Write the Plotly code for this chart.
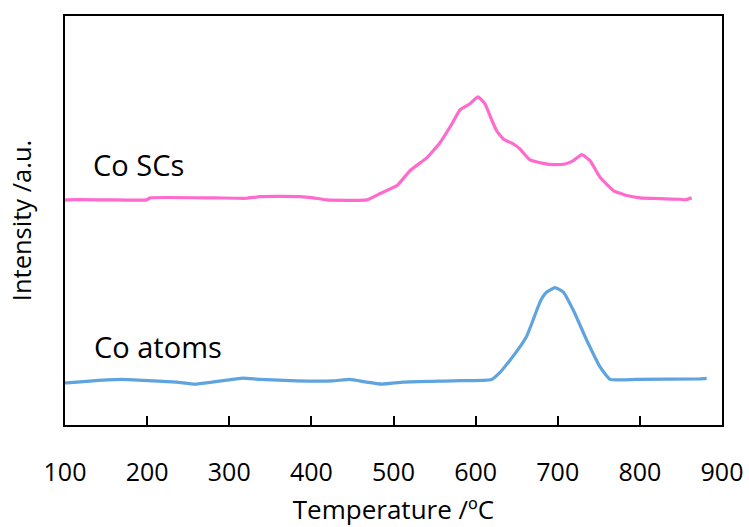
import plotly.graph_objects as go

# Co SCs (pink) – temperature (°C) and intensity (a.u.)
sc_temp = [100, 102, 150, 199.5, 203.5, 280.6, 321.3, 337.5, 386.2, 402.4, 418.7, 467.4,
           483.6, 504.3, 520.1, 540.8, 556.6, 571.2, 581, 593.2, 602.9, 611.4, 620, 625.6,
           633.7, 645.9, 654, 666.2, 682.4, 694.6, 708.9, 719, 729.2, 739.3, 751.5, 767.7,
           784, 800.2, 848.9, 855, 863.1]
sc_int = [225, 225.7, 225.7, 225.7, 227.7, 227.7, 227.3, 229, 229, 227.7, 225.7, 225.7,
          232, 240, 255, 268, 283, 302, 316, 322, 329, 322, 305, 295,
          286.7, 281.7, 276.7, 265.7, 262.3, 261, 261.7, 265, 271, 265, 248.3, 235,
          230, 227.7, 226.3, 225.7, 227.7]

# Co atoms (blue)
at_temp = [100, 102, 134, 169, 206, 236, 258, 279, 297, 317, 337, 382, 426, 447, 467, 486,
           512, 573, 619.6, 630, 641.9, 652, 662.2, 668, 674.4, 680, 686.6, 696.7, 706.8,
           719, 735.3, 751.5, 763.7, 796.2, 873.2, 881.4]
at_int = [42.3, 42.3, 44.3, 45.7, 44.3, 43, 41, 43, 45, 47, 45.7, 44.3, 44.3, 45.7, 43, 41,
          43, 44.3, 45.7, 53, 65, 76, 89, 101, 115, 126, 133.3, 137.7, 133.3,
          115, 85, 58.3, 45.7, 45.7, 46.3, 46.7]

x_ticks = [100, 200, 300, 400, 500, 600, 700, 800, 900]

font_family = "Open Sans, Noto Sans, DejaVu Sans, sans-serif"

fig = go.Figure()
fig.add_trace(go.Scatter(x=sc_temp, y=sc_int, mode="lines",
                         line=dict(color="#FF6ACD", width=3.2, shape="spline", smoothing=0.4),
                         showlegend=False))
fig.add_trace(go.Scatter(x=at_temp, y=at_int, mode="lines",
                         line=dict(color="#5FA3DF", width=3.2, shape="spline", smoothing=0.4),
                         showlegend=False))

fig.add_annotation(x=189.5, y=261, xref="x", yref="y", text="Co SCs", showarrow=False,
                   font=dict(size=29, color="black", family=font_family), xanchor="center")
fig.add_annotation(x=213, y=79, xref="x", yref="y", text="Co atoms", showarrow=False,
                   font=dict(size=29, color="black", family=font_family), xanchor="center")

fig.update_layout(
    width=749, height=527,
    margin=dict(l=65, r=27, t=16, b=102),
    plot_bgcolor="white", paper_bgcolor="white",
    font=dict(family=font_family, color="black", size=25),
    xaxis=dict(range=[100, 900], tickvals=x_ticks, ticks="inside", ticklen=9,
               tickwidth=2, tickcolor="black", showline=True, linecolor="black",
               linewidth=2, mirror=True, showgrid=False, zeroline=False,
               automargin=False,
               ticklabelstandoff=24, tickfont=dict(size=25),
               title=dict(text="Temperature /ºC", font=dict(size=26), standoff=19)),
    yaxis=dict(range=[0, 410], showticklabels=False, ticks="", showline=True,
               linecolor="black", linewidth=2, mirror=True, showgrid=False,
               zeroline=False, automargin=False,
               title=dict(text="Intensity /a.u.", font=dict(size=25.5), standoff=24)),
)

fig.write_html("out.html")
